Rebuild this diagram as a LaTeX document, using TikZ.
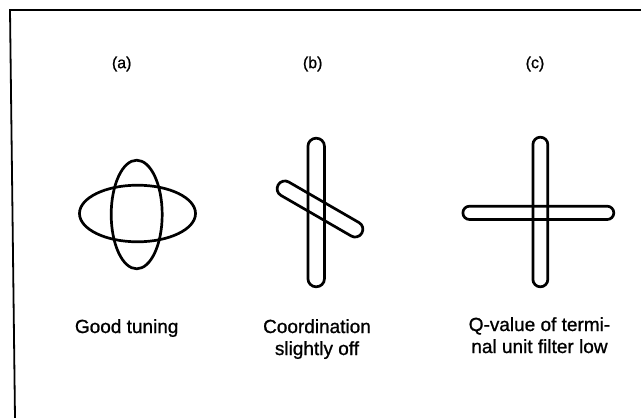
\documentclass[tikz,border=0pt]{standalone}
\usepackage{fontspec}
\setmainfont[FakeBold=1]{Liberation Sans}
\begin{document}
\begin{tikzpicture}[x=1pt,y=-1pt,
  frame/.style={line width=1.8pt},
  shp/.style={line width=2.7pt},
  tag/.style={font=\fontsize{16}{19}\selectfont, inner sep=0pt},
  lbl/.style={font=\fontsize{19}{22}\selectfont, align=center, inner sep=0pt}]
\useasboundingbox (0,0) rectangle (641,418);
\fill[white] (0,0) rectangle (641,418);
% frame
\draw[frame] (9,10) -- (641,10);
\draw[frame] (10,10) -- (15,418);
% headings
\node[tag] (la) at (121.7,64) {(a)};
\node[tag] (lb) at (312.7,64) {(b)};
\node[tag] (lc) at (535,64) {(c)};
% (a) two ellipses
\draw[shp] (137.5,213.5) ellipse [x radius=58, y radius=28.3];
\draw[shp] (136.7,214.5) ellipse [x radius=25.5, y radius=54.3];
% (b) vertical pill and tilted pill
\draw[shp, rounded corners=8.2pt] (307.9,138.2) rectangle (324.5,286.8);
\begin{scope}[shift={(320,209)}, rotate=-30]
  \draw[shp, rounded corners=7.7pt] (-48.3,-7.75) rectangle (48.3,7.75);
\end{scope}
% (c) cross of pills
\draw[shp, rounded corners=7.4pt] (532.9,137.2) rectangle (547.8,286.8);
\draw[shp, rounded corners=6.6pt] (462.9,206.2) rectangle (613.8,219.5);
% captions (base anchor = baseline of the last line)
\node[lbl, anchor=base] (ta) at (126.7,333) {Good tuning};
\node[lbl, anchor=base] (tb) at (317,355) {Coordination\\slightly off};
\node[lbl, anchor=base] (tc) at (539.5,353) {Q-value of termi-\\nal unit filter low};
\end{tikzpicture}
\end{document}
